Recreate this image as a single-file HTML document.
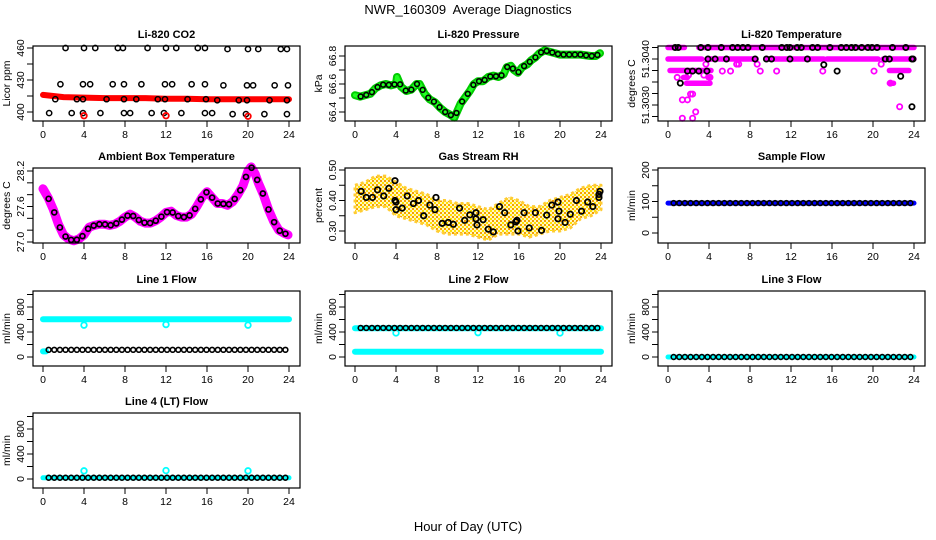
<!DOCTYPE html>
<html><head><meta charset="utf-8">
<style>
html,body{margin:0;padding:0;background:#fff;}
svg{display:block;font-family:"Liberation Sans",Arial,sans-serif;}
</style></head>
<body>
<svg id="chart" width="936" height="540" viewBox="0 0 936 540" xmlns="http://www.w3.org/2000/svg">
<rect width="936" height="540" fill="#fff"/>
<text x="468" y="14" text-anchor="middle" font-size="13" xml:space="preserve">NWR_160309  Average Diagnostics</text>
<text x="468" y="531" text-anchor="middle" font-size="13">Hour of Day (UTC)</text>
</svg>
<script>
// ---------- data ----------
const xTicks = [0,4,8,12,16,20,24];

// CO2
const co2LineX = [0,2,4,6,8,10,12,14,16,18,20,22,24];
const co2LineY = [416,414,413.5,413,413,413,412.5,412.5,412,412,412,412,412];
const co2BlackX = [2.2,4,5.1,7.3,7.8,10.2,12,13,15.1,15.8,18,20,21,23.2,23.8, 1.7,3.9,4.6,6.8,7.9,9.6,11.9,12.6,14.5,15.8,17.6,19.9,20.5,22.6,23.9, 1.2,3.3,3.9,6.2,7.9,9.1,11.2,11.9,14.1,15.9,17,19.1,19.9,22.1,23.8, 0.6,2.8,3.9,5.6,7.9,8.5,10.6,11.8,13.5,15.8,16.5,18.5,19.8,21.6,23.8];
const co2BlackY = [460,460,460,460,460,460,460,460,460,460,459,459,459,459,459, 426,426,426,426,426,426,426,426,426,426,425,425,425,425,425, 412,412,412,412,412,412,412,412,412,412,411,411,411,411,411, 399,399,399,399,399,399,399,399,399,399,399,398,398,398,398];
const co2RedX = [4,12,20];
const co2RedY = [396.5,396.5,396];

// Pressure
const presX = [0,0.5,1,1.5,2,2.5,3,3.5,4,4.1,4.5,5,5.5,6,6.3,6.8,7.3,7.8,8.3,8.8,9.3,9.7,10,10.3,10.7,11.2,11.6,12,12.5,13,13.5,14,14.5,14.8,15.2,15.5,15.9,16.3,16.8,17.2,17.6,18,18.5,19,19.5,20,21,22,23,23.5,23.9];
const presY = [66.52,66.51,66.52,66.53,66.57,66.59,66.6,66.59,66.6,66.65,66.58,66.55,66.56,66.6,66.6,66.53,66.49,66.47,66.43,66.4,66.38,66.36,66.41,66.46,66.5,66.55,66.6,66.62,66.62,66.65,66.66,66.65,66.67,66.72,66.73,66.7,66.68,66.72,66.74,66.77,66.79,66.82,66.84,66.83,66.82,66.81,66.81,66.81,66.8,66.8,66.82];

// Li-820 temperature
const tSegStart = [0,3,0,3.8,5,9.7,15.5,21,0.2,21.6,1.8,21.6,1.5,3.9];
const tSegEnd   = [1.6,24,3.3,4.6,8.6,15.2,20.5,24,4.2,23.5,4.1,22,1.9,4.1];
const tSegVal   = [51.30420,51.30420,51.30400,51.30400,51.30400,51.30400,51.30400,51.30400,51.30380,51.30380,51.30358,51.30358,51.30368,51.30368];
const tMagX = [0.9,2,3.5,4.1,3.7,6.7,6.9,8.7,20.8,21.7,2.2,2.4,1.9,1.4,2.7,1.4,2.4,22.6,15.1,10.6,6.1,5.3,9,20.1];
const tMagY = [51.30368,51.30372,51.30372,51.30368,51.30391,51.30391,51.30391,51.30391,51.30391,51.30358,51.30339,51.30339,51.30329,51.30329,51.30308,51.30297,51.30297,51.30317,51.30379,51.30379,51.30379,51.30379,51.30379,51.30379];
const tBlkX = [0.7,1.0,3.2,3.9,5.2,6.3,6.8,7.3,7.8,9.2,11.1,11.6,11.9,12.6,13,14.1,14.6,15.8,16.9,17.4,17.9,18.3,18.9,19.5,19.9,20.4,21.9,23.2, 3.9,4.6,5.7,8.5,9.6,10.1,11.9,13.6,21.2,21.6,23.8,23.9, 1.9,2.4,3.0,3.8, 1.2,15.2,16.5,22.7,23.8];
const tBlkY = [51.3042,51.3042,51.3042,51.3042,51.3042,51.3042,51.3042,51.3042,51.3042,51.3042,51.3042,51.3042,51.3042,51.3042,51.3042,51.3042,51.3042,51.3042,51.3042,51.3042,51.3042,51.3042,51.3042,51.3042,51.3042,51.3042,51.3042,51.3042, 51.3040,51.3040,51.3040,51.3040,51.3040,51.3040,51.3040,51.3040,51.3040,51.3040,51.3040,51.3040, 51.30379,51.30379,51.30379,51.30379, 51.30358,51.3039,51.30379,51.3037,51.30317];

// Ambient box temperature
const ambX = [0,0.5,1,1.5,2,2.5,3,3.5,4,4.5,5,5.5,6,6.5,7,7.5,8,8.5,9,9.5,10,10.5,11,11.5,12,12.5,13,13.5,14,14.5,15,15.5,16,16.5,17,17.5,18,18.5,19,19.5,20,20.3,20.7,21,21.5,22,22.5,23,23.5,23.9];
const ambY = [27.9,27.75,27.55,27.3,27.12,27.05,27.02,27.05,27.12,27.25,27.28,27.3,27.3,27.28,27.3,27.35,27.42,27.47,27.42,27.35,27.32,27.32,27.36,27.42,27.5,27.52,27.45,27.42,27.42,27.47,27.6,27.75,27.85,27.75,27.65,27.65,27.62,27.68,27.8,27.95,28.2,28.27,28.15,28.0,27.8,27.55,27.35,27.2,27.15,27.12];

// Gas stream RH
const rhX = [0,1,2,3,4,5,6,7,8,9,10,11,12,13,14,15,16,17,18,19,20,21,22,23,24];
const rhUpper = [0.45,0.46,0.48,0.48,0.46,0.44,0.43,0.42,0.40,0.40,0.39,0.39,0.38,0.37,0.39,0.41,0.40,0.38,0.38,0.40,0.41,0.42,0.44,0.45,0.45];
const rhLower = [0.36,0.37,0.38,0.38,0.35,0.34,0.33,0.32,0.30,0.29,0.29,0.29,0.28,0.27,0.29,0.29,0.29,0.28,0.29,0.30,0.30,0.31,0.34,0.35,0.37];
const rhBlkX = [0.6,1.1,1.7,2.2,2.8,3.3,3.9,3.9,4,4,4.6,5.1,5.7,6.2,6.7,7.3,7.8,7.9,8.5,9.1,9.6,10.2,10.7,11.2,11.8,11.8,11.9,12.5,13,13.5,14.1,14.6,15.2,15.7,15.8,15.9,16.5,17,17.6,18.2,18.7,19.2,19.8,19.8,19.9,20.5,21,21.6,22.1,22.7,23.2,23.8,23.8,23.9];
const rhBlkY = [0.43,0.41,0.41,0.435,0.415,0.44,0.465,0.40,0.395,0.37,0.375,0.415,0.39,0.40,0.35,0.385,0.37,0.41,0.325,0.328,0.322,0.375,0.335,0.353,0.36,0.34,0.32,0.337,0.306,0.297,0.38,0.36,0.32,0.33,0.335,0.30,0.36,0.31,0.36,0.302,0.352,0.385,0.395,0.34,0.365,0.328,0.355,0.40,0.365,0.395,0.38,0.42,0.41,0.43];

// Flows (level values)
const sampleFlow = 95;
const line1Cyan = 605, line1CyanStart = 90, line1Black = 115, line1DipX = [4,12,20], line1DipY = [510,520,510];
const line2Cyan = 460, line2CyanLow = 85, line2Black = 465, line2DipX = [4,12,20], line2DipY = [385,390,385];
const line3Cyan = 0, line3Black = 0;
const line4Cyan = 20, line4Black = 20, line4DipX = [4,12,20], line4DipY = [130,135,130];

// ---------- layout ----------
const svg = document.getElementById('chart');
const NS = 'http://www.w3.org/2000/svg';
function mk(tag, attrs, parent){ const e=document.createElementNS(NS,tag); for(const k in attrs) e.setAttribute(k,attrs[k]); (parent||svg).appendChild(e); return e; }

const colX0 = [43,355,668], colW = 246;
const rowTop = [46,168,291,413], rowH = 75;

function makePanel(name, col, row, title, ylab, v0, y0, v1, y1, ticks, labels, labelTexts){
  const g = mk('g',{});
  
  
  const x0 = colX0[col], top = rowTop[row], bot = top+rowH;
  const left = x0-10, right = x0+colW+11;
  const X = h => x0 + h/24*colW;
  const Y = v => y0 + (v-v0)/(v1-v0)*(y1-y0);
  const t = mk('text',{x:(left+right)/2,y:top-8,'text-anchor':'middle','font-size':11,'font-weight':'bold'},g);
  t.textContent = title;
  
  
  const yl = mk('text',{x:0,y:0,'text-anchor':'middle','font-size':10.5,transform:`translate(${left-23},${(top+bot)/2}) rotate(-90)`},g);
  yl.textContent = ylab;
  
  
  const plot = mk('g',{},g);
  const axes = mk('g',{},g);
  const box = mk('rect',{x:left,y:top,width:right-left,height:rowH,fill:'none',stroke:'#000','stroke-width':1.2},axes);
  
  
  xTicks.forEach(v=>{
    mk('line',{x1:X(v),x2:X(v),y1:bot,y2:bot+6,stroke:'#000'},axes);
    const tx = mk('text',{x:X(v),y:bot+17,'text-anchor':'middle','font-size':10.5},axes);
    tx.textContent = v;
    
    
  });
  ticks.forEach(v=>{ mk('line',{x1:left-6,x2:left,y1:Y(v),y2:Y(v),stroke:'#000'},axes); });
  labels.forEach((v,i)=>{
    const ty = mk('text',{x:0,y:0,'text-anchor':'middle','font-size':10.5,transform:`translate(${left-9},${Y(v)}) rotate(-90)`},axes);
    ty.textContent = labelTexts ? labelTexts[i] : v;
    
    
  });
  return {plot,X,Y};
}
function circ(p,x,y,col,r,sw){ const c=mk('circle',{cx:x,cy:y,r:r||2.6,fill:'none',stroke:col,'stroke-width':sw||1.5},p);   return c; }
function thick(p,xs,ys,X,Y,col,w){ const d=xs.map((x,i)=>(i?'L':'M')+X(x).toFixed(1)+','+Y(ys[i]).toFixed(1)).join(''); const e=mk('path',{d,fill:'none',stroke:col,'stroke-width':w,'stroke-linecap':'round','stroke-linejoin':'round'},p);   return e; }
function interp(xs,ys,h){ for(let i=1;i<xs.length;i++){ if(h<=xs[i]){ const f=(h-xs[i-1])/(xs[i]-xs[i-1]); return ys[i-1]+f*(ys[i]-ys[i-1]); } } return ys[ys.length-1]; }
const grid = []; for(let h=0.55; h<=23.95; h+=0.55) grid.push(h);

// 1 CO2
{ const P = makePanel('co2-panel',0,0,'Li-820 CO2','Licor ppm',400,112,460,48,[400,415,430,445,460],[400,430,460]);
  thick(P.plot,co2LineX,co2LineY,P.X,P.Y,'#f00',6);
  co2BlackX.forEach((x,i)=>circ(P.plot,P.X(x),P.Y(co2BlackY[i]),'#000'));
  co2RedX.forEach((x,i)=>circ(P.plot,P.X(x),P.Y(co2RedY[i]),'#f00',2.8,1.8)); }

// 2 Pressure
{ const P = makePanel('pressure-panel',1,0,'Li-820 Pressure','kPa',66.4,112,66.8,56,[66.4,66.5,66.6,66.7,66.8],[66.4,66.6,66.8]);
  thick(P.plot,presX,presY,P.X,P.Y,'#0c0',8);
  thick(P.plot,presX,presY,P.X,P.Y,'#22ff22',4);
  grid.forEach(h=>circ(P.plot,P.X(h),P.Y(interp(presX,presY,h)),'#000',2.4,1.6)); }

// 3 Li-820 temperature
{ const P = makePanel('licor-temp-panel',2,0,'Li-820 Temperature','degrees C',51.3040,59,51.3030,116.5,[51.3042,51.3040,51.3038,51.3036,51.3034,51.3032,51.3030],[51.3040,51.3032],['51.3040','51.3030']);
  tSegStart.forEach((s,i)=>{ thick(P.plot,[s,tSegEnd[i]],[tSegVal[i],tSegVal[i]],P.X,P.Y,'#f0f',5.5); });
  tMagX.forEach((x,i)=>circ(P.plot,P.X(x),P.Y(tMagY[i]),'#f0f',2.6,1.8));
  tBlkX.forEach((x,i)=>circ(P.plot,P.X(x),P.Y(tBlkY[i]),'#000',2.6,1.8)); }

// 4 Ambient
{ const P = makePanel('ambient-temp-panel',0,1,'Ambient Box Temperature','degrees C',27.0,242,28.2,171,[27.0,27.2,27.4,27.6,27.8,28.0,28.2],[27.0,27.6,28.2],['27.0','27.6','28.2']);
  thick(P.plot,ambX,ambY,P.X,P.Y,'#f0f',9);
  grid.forEach(h=>circ(P.plot,P.X(h),P.Y(interp(ambX,ambY,h)),'#000',2.5,1.7)); }

// 5 RH
{ const P = makePanel('rh-panel',1,1,'Gas Stream RH','percent',0.30,231,0.50,170,[0.30,0.35,0.40,0.45,0.50],[0.30,0.40,0.50],['0.30','0.40','0.50']);
  const defs = mk('defs',{});
  const pat = mk('pattern',{id:'rhpat',width:4,height:4,patternUnits:'userSpaceOnUse'},defs);
  mk('rect',{width:4,height:4,fill:'#fff7c0'},pat);
  mk('rect',{width:2,height:2,fill:'#f5a000'},pat);
  mk('rect',{x:2,y:2,width:2,height:2,fill:'#ffe000'},pat);
  let d = rhX.map((x,i)=>(i?'L':'M')+P.X(x).toFixed(1)+','+P.Y(rhUpper[i]).toFixed(1)).join('');
  for(let i=rhX.length-1;i>=0;i--) d += 'L'+P.X(rhX[i]).toFixed(1)+','+P.Y(rhLower[i]).toFixed(1);
  const band = mk('path',{d:d+'Z',fill:'url(#rhpat)',stroke:'#ffcc33','stroke-width':3,'stroke-dasharray':'3 3','stroke-linejoin':'round'},P.plot);
  
  
  rhBlkX.forEach((x,i)=>circ(P.plot,P.X(x),P.Y(rhBlkY[i]),'#000',2.7,1.8)); }

// 6 Sample flow
{ const P = makePanel('sample-flow-panel',2,1,'Sample Flow','ml/min',0,233,200,170,[0,50,100,150,200],[0,100,200]);
  thick(P.plot,[0,24],[sampleFlow,sampleFlow],P.X,P.Y,'#00f',5);
  grid.forEach(h=>circ(P.plot,P.X(h),P.Y(sampleFlow),'#000',2.4,1.6)); }

const flowTicks=[0,200,400,600,800,1000], flowLabels=[0,400,800];
// 7 Line 1
{ const P = makePanel('line1-flow-panel',0,2,'Line 1 Flow','ml/min',0,357,800,307,flowTicks,flowLabels);
  thick(P.plot,[0,24],[line1Cyan,line1Cyan],P.X,P.Y,'#0ff',6);
  thick(P.plot,[0,0.3],[line1CyanStart,line1CyanStart],P.X,P.Y,'#0ff',6);
  line1DipX.forEach((x,i)=>circ(P.plot,P.X(x),P.Y(line1DipY[i]),'#0ff',2.8,1.8));
  grid.forEach(h=>circ(P.plot,P.X(h),P.Y(line1Black),'#000',2.4,1.6)); }

// 8 Line 2
{ const P = makePanel('line2-flow-panel',1,2,'Line 2 Flow','ml/min',0,357,800,307,flowTicks,flowLabels);
  thick(P.plot,[0,24],[line2Cyan,line2Cyan],P.X,P.Y,'#0ff',6);
  thick(P.plot,[0,24],[line2CyanLow,line2CyanLow],P.X,P.Y,'#0ff',6);
  line2DipX.forEach((x,i)=>circ(P.plot,P.X(x),P.Y(line2DipY[i]),'#0ff',2.8,1.8));
  grid.forEach(h=>circ(P.plot,P.X(h),P.Y(line2Black),'#000',2.4,1.6)); }

// 9 Line 3
{ const P = makePanel('line3-flow-panel',2,2,'Line 3 Flow','ml/min',0,357,800,307,flowTicks,flowLabels);
  thick(P.plot,[0,24],[line3Cyan,line3Cyan],P.X,P.Y,'#0ff',5);
  grid.forEach(h=>circ(P.plot,P.X(h),P.Y(line3Black),'#000',2.4,1.6)); }

// 10 Line 4
{ const P = makePanel('line4-flow-panel',0,3,'Line 4 (LT) Flow','ml/min',0,479,800,429,flowTicks,flowLabels);
  thick(P.plot,[0,24],[line4Cyan,line4Cyan],P.X,P.Y,'#0ff',5);
  line4DipX.forEach((x,i)=>circ(P.plot,P.X(x),P.Y(line4DipY[i]),'#0ff',2.8,1.8));
  grid.forEach(h=>circ(P.plot,P.X(h),P.Y(line4Black),'#000',2.4,1.6)); }
</script>
</body></html>
